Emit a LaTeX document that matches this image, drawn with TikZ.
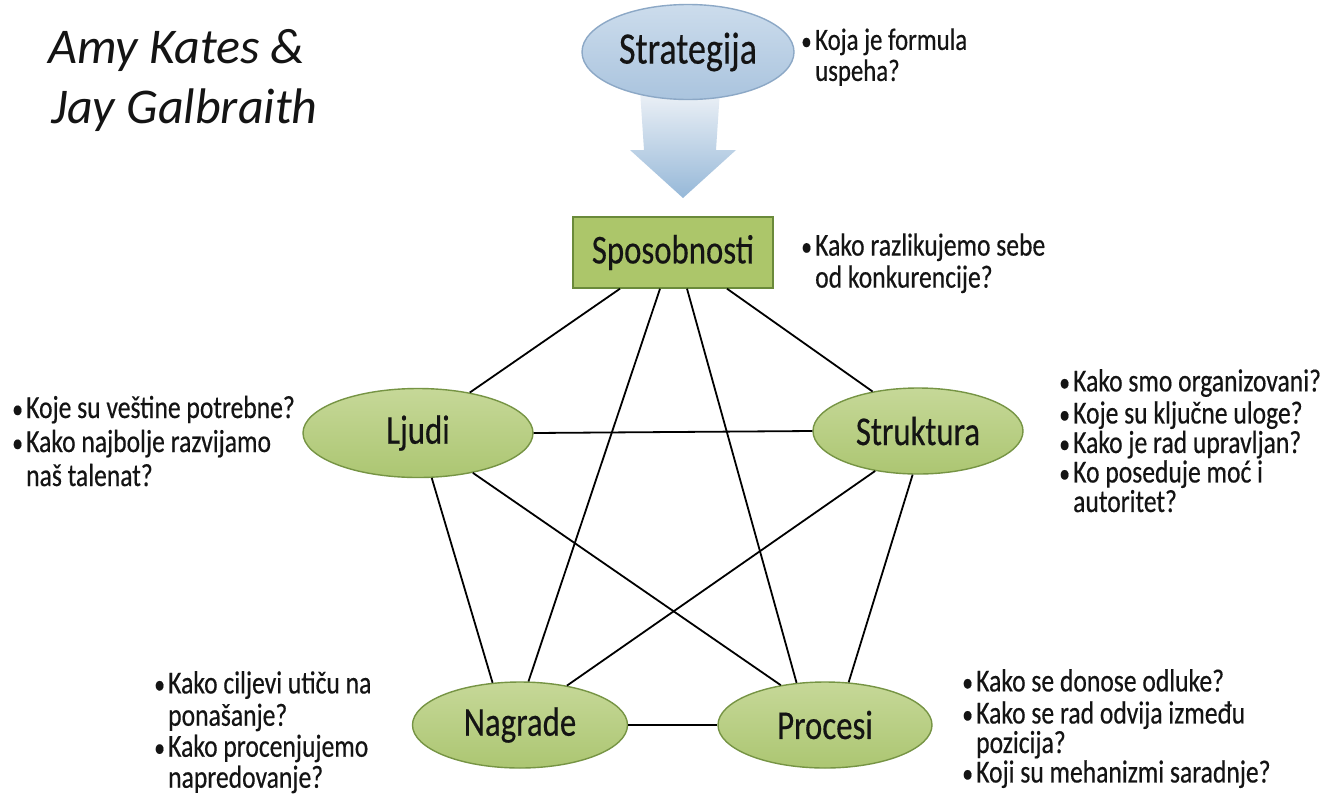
\documentclass[tikz,border=0pt]{standalone}
\usepackage{fontspec}
\setmainfont{Carlito}
\newfontfamily\cond[FakeStretch=0.8,FakeBold=0.4]{Carlito}
\usetikzlibrary{shapes.geometric,calc}
\definecolor{grnlight}{RGB}{198,216,152}
\definecolor{grndark}{RGB}{172,198,114}
\definecolor{grnborder}{RGB}{118,148,68}
\definecolor{boxfill}{RGB}{172,198,106}
\definecolor{boxborder}{RGB}{106,138,58}
\definecolor{bluelight}{RGB}{204,220,236}
\definecolor{bluedark}{RGB}{170,196,222}
\definecolor{blueborder}{RGB}{140,168,198}
\definecolor{arrtop}{RGB}{238,242,247}
\definecolor{arrbot}{RGB}{150,184,216}
\definecolor{txt}{RGB}{20,20,20}
\newcommand\bul{\makebox[14pt][l]{\scalebox{0.85}{•}}}
\newcommand\ind{\hspace*{14pt}}
\begin{document}
\begin{tikzpicture}[x=1pt,y=-1pt,
  lbl/.style={font=\cond\fontsize{41}{41}\selectfont, text=txt},
  greenell/.style={ellipse, draw=grnborder, line width=1.4pt, top color=grnlight, bottom color=grndark, inner sep=0, lbl},
  conn/.style={line width=1.8pt, black},
  qtext/.style={anchor=north west, inner sep=0, align=left, text=txt}]
\useasboundingbox (0,0) rectangle (1335,798);
\fill[white] (0,0) rectangle (1335,798);

% title
\node[anchor=base west, inner sep=0, font=\itshape\fontsize{50}{60}\selectfont, text=txt] (t1) at (48,63) {Amy Kates \&};
\node[anchor=base west, inner sep=0, font=\itshape\fontsize{50}{60}\selectfont, text=txt] (t2) at (51,123) {Jay Galbraith};

% arrow
\shade[top color=arrtop, bottom color=arrbot] (640,90) -- (720,90) -- (716,150) -- (736,150) -- (683,198) -- (630,150) -- (644,150) -- cycle;

% nodes
\node[ellipse, draw=blueborder, line width=1.4pt, top color=bluelight, bottom color=bluedark, inner sep=0,
      minimum width=212, minimum height=95, font=\cond\fontsize{45}{45}\selectfont, text=txt] (strat) at (688,52) {Strategija};
\node[rectangle, draw=boxborder, line width=1.4pt, fill=boxfill, minimum width=200, minimum height=71, inner sep=0, lbl] (spo) at (673,252.5) {Sposobnosti};
\node[greenell, minimum width=230, minimum height=89] (lj) at (418,433) {Ljudi};
\node[greenell, minimum width=210, minimum height=86] (st) at (918,431) {Struktura};
\node[greenell, minimum width=215, minimum height=86] (na) at (520,725) {Nagrade};
\node[greenell, minimum width=214, minimum height=86] (pr) at (825,725) {Procesi};

% connectors
\draw[conn] ($(spo.south)+(-53,0)$) -- (lj.38);
\draw[conn] ($(spo.south)+(-13,0)$) -- (na.79);
\draw[conn] ($(spo.south)+(14,0)$) -- (pr.124);
\draw[conn] ($(spo.south)+(54,0)$) -- (st.139);
\draw[conn] (lj.east) -- (st.west);
\draw[conn] (lj.-73) -- (na.123);
\draw[conn] (lj.-36) -- (pr.138);
\draw[conn] (st.223) -- (na.40);
\draw[conn] (st.-97) -- (pr.61);
\draw[conn] (na.east) -- (pr.west);

% questions
\node[qtext, font=\cond\fontsize{31}{31}\selectfont] (q1) at (801,28) {\strut\bul Koja je formula\\\ind uspeha?};
\node[qtext, font=\cond\fontsize{32}{32}\selectfont] (q2) at (801,233) {\strut\bul Kako razlikujemo sebe\\\ind od konkurencije?};
\node[qtext, font=\cond\fontsize{32}{34}\selectfont] (q3) at (12,394) {\strut\bul Koje su veštine potrebne?\\\bul Kako najbolje razvijamo\\\ind naš talenat?};
\node[qtext, font=\cond\fontsize{32}{29.5}\selectfont] (q4) at (1059,369) {\strut\bul Kako smo organizovani?\\\bul Koje su ključne uloge?\\\bul Kako je rad upravljan?\\\bul Ko poseduje moć i\\\ind autoritet?};
\node[qtext, font=\cond\fontsize{32}{31}\selectfont] (q5) at (154,671) {\strut\bul Kako ciljevi utiču na\\\ind ponašanje?\\\bul Kako procenjujemo\\\ind napredovanje?};
\node[qtext, font=\cond\fontsize{32}{29.5}\selectfont] (q6) at (962,669) {\strut\bul Kako se donose odluke?\\\bul Kako se rad odvija između\\\ind pozicija?\\\bul Koji su mehanizmi saradnje?};
\end{tikzpicture}
\end{document}
